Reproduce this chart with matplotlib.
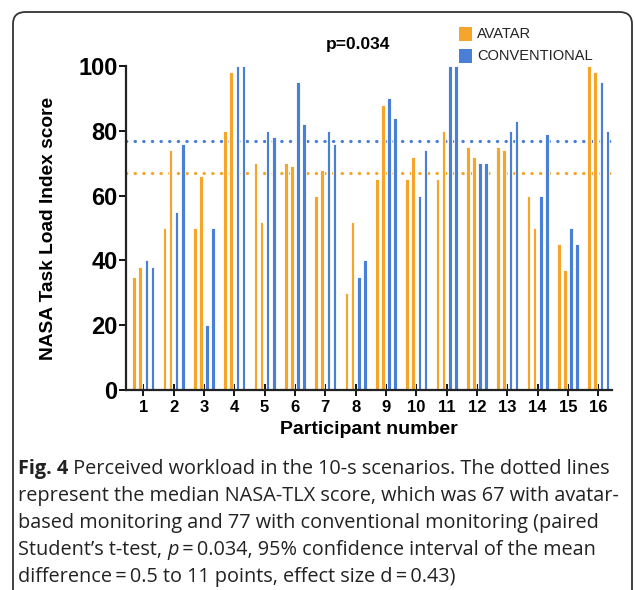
import matplotlib
matplotlib.use("Agg")
import matplotlib.pyplot as plt
import numpy as np
from matplotlib.patches import FancyBboxPatch, Rectangle

participants = list(range(1, 17))
avatar_1 = [35, 50, 50, 80, 70, 70, 60, 30, 65, 65, 65, 75, 75, 60, 45, 100]
avatar_2 = [38, 74, 66, 98, 52, 69, 68, 52, 88, 72, 80, 72, 74, 50, 37, 98]
conv_1 = [40, 55, 20, 100, 80, 95, 80, 35, 90, 60, 100, 70, 80, 60, 50, 95]
conv_2 = [38, 76, 50, 100, 78, 82, 76, 40, 84, 74, 100, 70, 83, 79, 45, 80]
median_avatar = 67
median_conv = 77
yticks = [0, 20, 40, 60, 80, 100]

ORANGE = "#F5A62A"
BLUE = "#4A7FD6"
W, H = 635, 590
fig = plt.figure(figsize=(W / 100, H / 100), dpi=100)

# border
border = FancyBboxPatch((13 / W, -0.05), (632 - 13) / W, (H - 12) / H + 0.05,
                        boxstyle="round,pad=0,rounding_size=0.02",
                        transform=fig.transFigure, fill=False, edgecolor="#333333",
                        linewidth=1.3, clip_on=False)
fig.patches.append(border)

ax = fig.add_axes([126 / W, 1 - 390 / H, (612 - 126) / W, (390 - 66) / H])
x = np.array(participants, dtype=float)
bw = 0.12
offs = [-0.3, -0.1, 0.1, 0.3]
ax.axhline(median_avatar, color=ORANGE, linestyle=(0, (0.1, 2.6)), linewidth=2.3,
           dash_capstyle="round", zorder=1)
ax.axhline(median_conv, color=BLUE, linestyle=(0, (0.1, 2.6)), linewidth=2.3,
           dash_capstyle="round", zorder=1)
for vals, off, col in [(avatar_1, offs[0], ORANGE), (avatar_2, offs[1], ORANGE),
                       (conv_1, offs[2], BLUE), (conv_2, offs[3], BLUE)]:
    ax.bar(x + off, vals, width=bw, color=col, edgecolor="white", linewidth=0.6, zorder=2)

ax.set_xlim(0.43, 16.45)
ax.set_ylim(0, 100)
ax.set_yticks(yticks)
ax.set_yticklabels([str(v) for v in yticks], fontsize=17, fontweight="bold",
                   family="Liberation Sans")
ax.set_xticks(participants)
ax.set_xticklabels([str(p) for p in participants], fontsize=12, fontweight="bold",
                   family="Liberation Sans")
ax.tick_params(axis="y", direction="out", length=5, width=1.3, pad=1)
ax.tick_params(axis="x", direction="inout", length=9, width=1.3, pad=3)
for s in ["top", "right"]:
    ax.spines[s].set_visible(False)
for s in ["left", "bottom"]:
    ax.spines[s].set_linewidth(1.6)
    ax.spines[s].set_color("#222222")
ax.set_ylabel("NASA Task Load Index score", fontsize=13.8, fontweight="bold",
              family="Liberation Sans", labelpad=15)
ax.set_xlabel("Participant number", fontsize=14, fontweight="bold",
              family="Liberation Sans", labelpad=4)

fig.text(358 / W, 1 - 45 / H, "p=0.034", ha="center", va="center", fontsize=12.5,
         fontweight="bold", family="Liberation Sans")

# legend
for yc, col, lab in [(34, ORANGE, "AVATAR"), (56, BLUE, "CONVENTIONAL")]:
    fig.patches.append(Rectangle((459 / W, 1 - (yc + 7) / H), 13 / W, 14 / H,
                                 transform=fig.transFigure, facecolor=col,
                                 edgecolor="none"))
    fig.text(477 / W, 1 - yc / H, lab, ha="left", va="center", fontsize=10.5,
             family="Liberation Sans", color="#222222")

# caption
cap_lines = [
    [("Fig. 4", "bold", "normal"), (" Perceived workload in the 10-s scenarios. The dotted lines", "normal", "normal")],
    [("represent the median NASA-TLX score, which was 67 with avatar-", "normal", "normal")],
    [("based monitoring and 77 with conventional monitoring (paired", "normal", "normal")],
    [("Student\u2019s t-test, ", "normal", "normal"), ("p", "normal", "italic"),
     ("\u2009=\u20090.034, 95% confidence interval of the mean", "normal", "normal")],
    [("difference\u2009=\u20090.5 to 11 points, effect size d\u2009=\u20090.43)", "normal", "normal")],
]
fig.canvas.draw()
renderer = fig.canvas.get_renderer()
y0 = 474
for i, segs in enumerate(cap_lines):
    xp = 18
    yb = y0 + i * 27.1
    for txt, wt, st in segs:
        t = fig.text(xp / W, 1 - yb / H, txt, ha="left", va="baseline", fontsize=14.3,
                     fontweight=wt, fontstyle=st, family=["Open Sans", "DejaVu Sans"],
                     color="#222222")
        bb = t.get_window_extent(renderer=renderer)
        xp += bb.width

fig.savefig("out.png", dpi=100)
